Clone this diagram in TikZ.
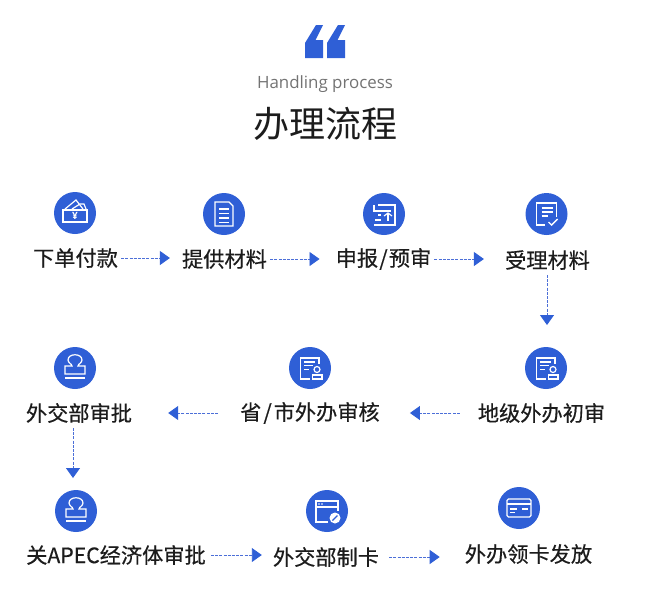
\documentclass[tikz,border=0pt]{standalone}
\usepackage{fontspec}
\setmainfont{Noto Sans CJK SC}
\newfontfamily\cjkb[FakeBold=0.5]{Noto Sans CJK SC}
\newfontfamily\latinf{Open Sans}
\usetikzlibrary{arrows.meta,calc}
\definecolor{bluemain}{HTML}{2F5FD6}
\definecolor{inkc}{HTML}{1C1C1C}
\definecolor{dashc}{HTML}{4C6FD8}
\tikzset{
  badge/.style={circle,fill=bluemain,minimum size=42pt,inner sep=0pt,draw=none},
  steplabel/.style={inner sep=0pt,text=inkc,font=\cjkb\fontsize{21.2}{24}\selectfont,anchor=center},
  flow/.style={draw=dashc,line width=0.9pt,dash pattern=on 3pt off 1.2pt,
    -{Triangle[length=10pt,width=14pt,fill=bluemain,color=bluemain,sep=0pt]}},
  ic/.style={draw=white,line width=1.2pt,fill=none,line join=miter},
}
% icons, drawn around the badge centre
\newcommand{\icwallet}[1]{\begin{scope}[shift={(#1)},ic]
  \draw (-12,-3) rectangle (12,9);
  \draw (-10,-4) -- (1,-13) -- (8,-4);
  \draw (-3,-4) -- (5,-9) -- (9,-9) -- (11,-4);
  \node[text=white,inner sep=0pt,draw=none,font=\latinf\fontsize{10}{10}\bfseries\selectfont] at (0,3) {¥};
\end{scope}}
\newcommand{\icdoc}[1]{\begin{scope}[shift={(#1)},ic]
  \draw (-9,-12) -- (5,-12) -- (9,-8) -- (9,12) -- (-9,12) -- cycle;
  \foreach \yy in {-5,-0.5,4,8.5}{\draw (-5,\yy) -- (5,\yy);}
\end{scope}}
\newcommand{\icform}[1]{\begin{scope}[shift={(#1)},ic]
  \draw (-6,-9) -- (11,-9) -- (11,11) -- (-10,11);
  \draw (-10,-9) -- (-10,-2);
  \draw (-9,-3) -- (7,-3);
  \draw (-9,6) -- (-3,6);
  \draw (-6,1) -- (-3,1);
  \draw (0,2) -- (4,-1) -- (8,2);
  \draw (4,-1) -- (4,7);
\end{scope}}
\newcommand{\iccheck}[1]{\begin{scope}[shift={(#1)},ic]
  \draw (-2,11) -- (-10,11) -- (-10,-11) -- (10,-11) -- (10,3);
  \draw (-5,-6) -- (6,-6);
  \draw (-5,-2) -- (6,-2);
  \draw (-5,2) -- (1,2);
  \draw[line width=1.4pt] (2,8) -- (5,11) -- (11,5);
\end{scope}}
\newcommand{\icperson}[1]{\begin{scope}[shift={(#1)},ic]
  \draw (0,11) -- (-9.5,11) -- (-9.5,-10) -- (9,-10) -- (9,-4);
  \draw (-6,-6) -- (5,-6);
  \draw (-6,-2.5) -- (3,-2.5);
  \draw (-6,1.5) -- (-1,1.5);
  \draw (7,1.5) circle (3);
  \draw (2.5,11) -- (2.5,7) -- (12,7) -- (12,11) -- cycle;
\end{scope}}
\newcommand{\icstamp}[1]{\begin{scope}[shift={(#1)},ic]
  \draw (-3,-2) .. controls (-3,-4) and (-7,-5) .. (-7,-8) .. controls (-7,-15) and (7,-15) .. (7,-8) .. controls (7,-5) and (3,-4) .. (3,-2) -- (10,-2) -- (10,6) -- (-10,6) -- (-10,-2) -- cycle;
  \draw (-10,10) -- (10,10);
\end{scope}}
\newcommand{\icwindow}[1]{\begin{scope}[shift={(#1)},ic]
  \draw (1,11) -- (-11,11) -- (-11,-10) -- (11,-10) -- (11,0);
  \draw (-11,-4) -- (11,-4);
  \fill[white,draw=none] (-8,-7) circle (0.9) (-5,-7) circle (0.9);
  \fill[white,draw=none] (8,7) circle (5.5);
  \draw[bluemain,line width=1.2pt] (5.5,9.5) -- (10.5,4.5);
\end{scope}}
\newcommand{\iccard}[1]{\begin{scope}[shift={(#1)},ic]
  \draw[rounded corners=1.5pt] (-12,-9) rectangle (12,9);
  \draw (-12,-4) -- (12,-4);
  \draw (-9,1) -- (-2,1);
  \draw (3,1) -- (9,1);
  \draw (-9,4.5) -- (-4,4.5);
\end{scope}}
\begin{document}
\begin{tikzpicture}[x=1pt,y=-1pt]
\useasboundingbox (0,0) rectangle (650,598);
% heading
\fill[bluemain] (305,58) -- (323,58) -- (323,40) -- (315.5,40) -- (323,25) -- (316,25) -- (305,43) -- cycle;
\fill[bluemain] (327,58) -- (345,58) -- (345,40) -- (337.5,40) -- (345,25) -- (338,25) -- (327,43) -- cycle;
\node[inner sep=0pt,text=black!55,font=\latinf\fontsize{16.9}{20}\selectfont] (sub) at (325,84) {Handling process};
\node[inner sep=0pt,text=inkc,font=\fontsize{36}{40}\selectfont] (title) at (325.5,124) {办理流程};
% badges
\node[badge] (b1) at (75,213) {};
\node[badge] (b2) at (224,214) {};
\node[badge] (b3) at (384,214) {};
\node[badge] (b4) at (546.5,214) {};
\node[badge] (b5) at (75,368) {};
\node[badge] (b6) at (310,368) {};
\node[badge] (b7) at (546,368) {};
\node[badge] (b8) at (76,511) {};
\node[badge] (b9) at (327,511) {};
\node[badge] (b10) at (519,508) {};
\icwallet{b1}\icdoc{b2}\icform{b3}\iccheck{b4}\icstamp{b5}\icperson{b6}\icperson{b7}\icstamp{b8}\icwindow{b9}\iccard{b10}
% labels
\node[steplabel] (t1) at (75.5,258) {下单付款};
\node[steplabel] (t2) at (224.5,259) {提供材料};
\node[steplabel] (t3) at (383.5,259) {申报\kern1.2pt/\kern1.2pt预审};
\node[steplabel] (t4) at (547.5,260) {受理材料};
\node[steplabel] (t5) at (79,413) {外交部审批};
\node[steplabel] (t6) at (310,413) {省\kern2pt/\kern2pt市外办审核};
\node[steplabel] (t7) at (541.5,413) {地级外办初审};
\node[steplabel] (t8) at (116,555) {关APEC经济体审批};
\node[steplabel] (t9) at (326,557) {外交部制卡};
\node[steplabel] (t10) at (528.5,554) {外办领卡发放};
% connectors
\coordinate (d1) at (547,325);
\coordinate (d1s) at (547,275);
\coordinate (d2) at (73,478);
\coordinate (d2s) at (73,428);
\draw[flow,shorten <=3pt,shorten >=12pt] (t1.east) -- (t1.east -| t2.west);
\draw[flow,shorten <=3pt,shorten >=16pt] (t2.east) -- (t2.east -| t3.west);
\draw[flow,shorten <=3pt,shorten >=21pt] (t3.east) -- (t3.east -| t4.west);
\draw[flow] (d1s) -- (d1);
\draw[flow,shorten <=22pt,shorten >=36pt] (t6.west) -- (t6.west -| t5.east);
\draw[flow,shorten <=18pt,shorten >=30pt] (t7.west) -- (t7.west -| t6.east);
\draw[flow] (d2s) -- (d2);
\draw[flow,shorten <=5pt,shorten >=11pt] (t8.east) -- (t8.east -| t9.west);
\draw[flow,shorten <=10pt,shorten >=25pt] (t9.east) -- (t9.east -| t10.west);
\end{tikzpicture}
\end{document}
